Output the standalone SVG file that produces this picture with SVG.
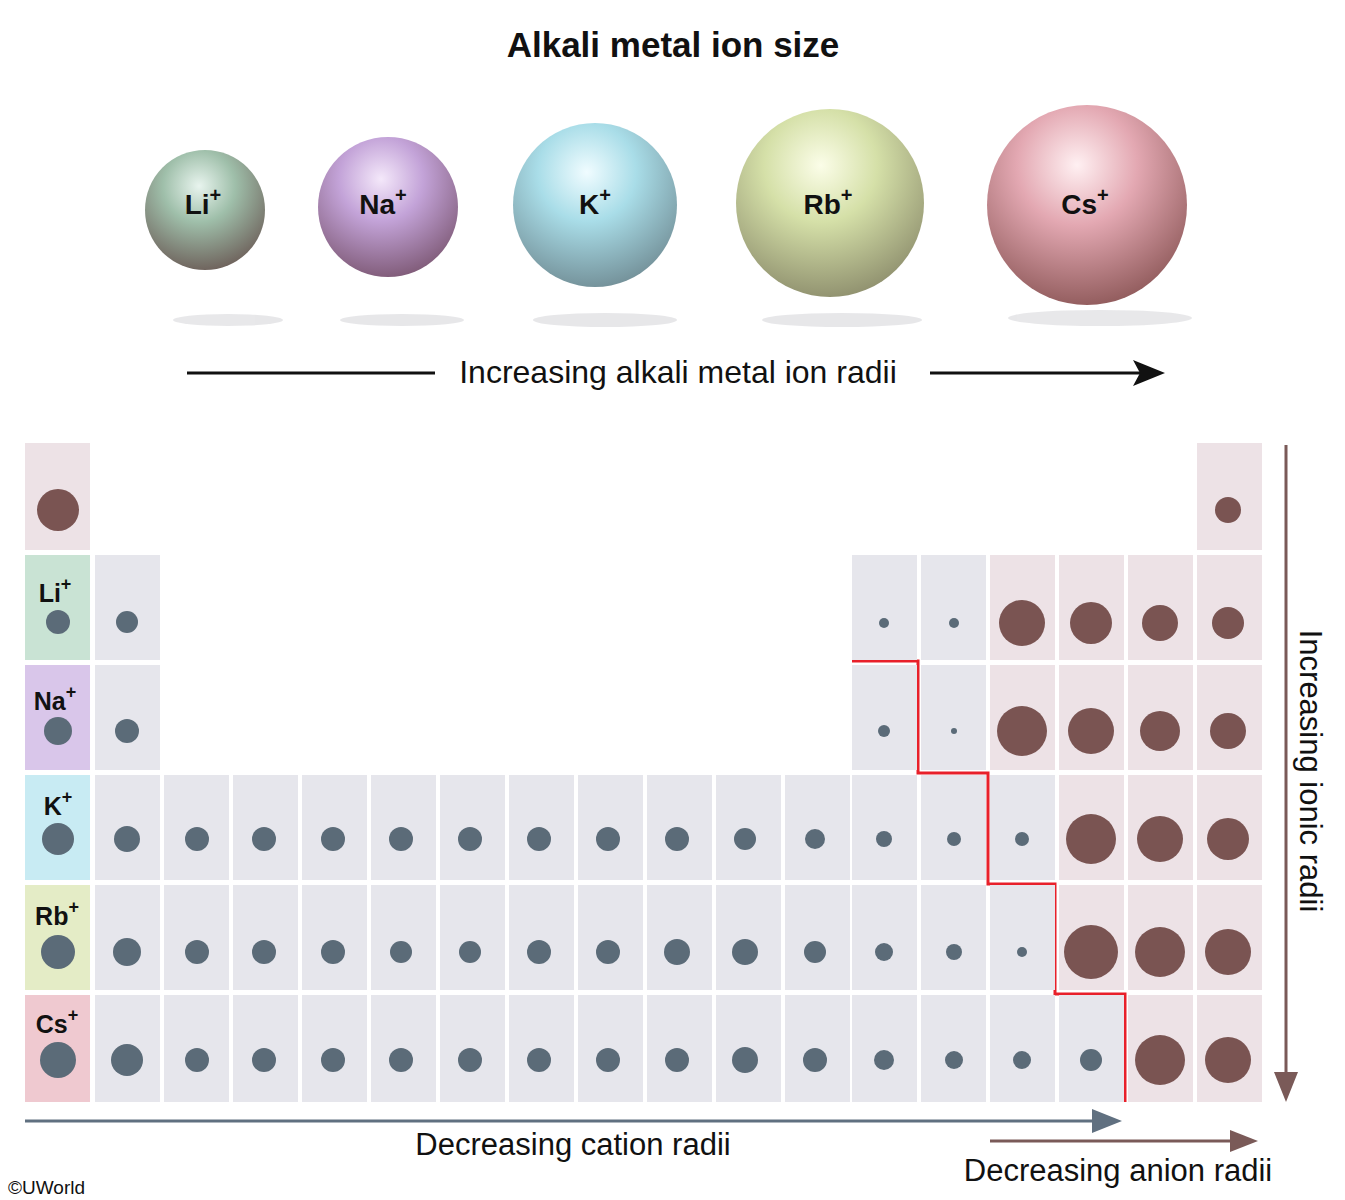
<svg xmlns="http://www.w3.org/2000/svg" width="1345" height="1200" viewBox="0 0 1345 1200">
<defs>
<style>
text{font-family:"Liberation Sans",Arial,sans-serif;fill:#111}
.c{fill:#e6e6ec}.a{fill:#ede2e6}
.cd{fill:#5b6b78}.ad{fill:#7a5452}
.lb{font-size:25px;font-weight:bold;text-anchor:middle}
.sl{font-size:28px;font-weight:bold;text-anchor:middle}
</style>
<radialGradient id="gLi" cx="0.45" cy="0.3" r="0.75"><stop offset="0" stop-color="#e8f4ee"/><stop offset="0.4" stop-color="#9fbfaa"/><stop offset="1" stop-color="#6a5a55"/></radialGradient>
<radialGradient id="gNa" cx="0.45" cy="0.3" r="0.75"><stop offset="0" stop-color="#f4e8fa"/><stop offset="0.4" stop-color="#c3a3d8"/><stop offset="1" stop-color="#7a5570"/></radialGradient>
<radialGradient id="gK" cx="0.45" cy="0.3" r="0.75"><stop offset="0" stop-color="#f0fcff"/><stop offset="0.4" stop-color="#a9dde8"/><stop offset="1" stop-color="#6f8a92"/></radialGradient>
<radialGradient id="gRb" cx="0.45" cy="0.3" r="0.75"><stop offset="0" stop-color="#fbfde8"/><stop offset="0.4" stop-color="#d5e0a8"/><stop offset="1" stop-color="#8a8a6a"/></radialGradient>
<radialGradient id="gCs" cx="0.45" cy="0.3" r="0.75"><stop offset="0" stop-color="#fff0f2"/><stop offset="0.4" stop-color="#e3a8b2"/><stop offset="1" stop-color="#8a5555"/></radialGradient>
</defs>
<rect width="1345" height="1200" fill="#fff"/>
<text x="673" y="57" font-size="35" font-weight="bold" text-anchor="middle">Alkali metal ion size</text>
<g id="spheres">
<g fill="#d8d8dc" opacity="0.6"><ellipse cx="228" cy="320" rx="55" ry="6"/><ellipse cx="402" cy="320" rx="62" ry="6"/><ellipse cx="605" cy="320" rx="72" ry="7"/><ellipse cx="842" cy="320" rx="80" ry="7"/><ellipse cx="1100" cy="318" rx="92" ry="8"/></g>
<g id="li"><circle cx="205" cy="210" r="60" fill="url(#gLi)"/><text class="sl" x="203" y="214">Li<tspan dy="-12" font-size="20">+</tspan></text></g>
<g id="na"><circle cx="388" cy="207" r="70" fill="url(#gNa)"/><text class="sl" x="383" y="214">Na<tspan dy="-12" font-size="20">+</tspan></text></g>
<g id="k"><circle cx="595" cy="205" r="82" fill="url(#gK)"/><text class="sl" x="595" y="214">K<tspan dy="-12" font-size="20">+</tspan></text></g>
<g id="rb"><circle cx="830" cy="203" r="94" fill="url(#gRb)"/><text class="sl" x="828" y="214">Rb<tspan dy="-12" font-size="20">+</tspan></text></g>
<g id="cs"><circle cx="1087" cy="205" r="100" fill="url(#gCs)"/><text class="sl" x="1085" y="214">Cs<tspan dy="-12" font-size="20">+</tspan></text></g>
</g>
<g id="connectors" stroke-width="3" fill="none">
<line x1="187" y1="373" x2="435" y2="373" stroke="#111"/>
<line x1="930" y1="373" x2="1145" y2="373" stroke="#111"/>
<path d="M1133,360L1165,373L1133,386L1140,373z" fill="#111" stroke="none"/>
<line x1="25" y1="1121" x2="1100" y2="1121" stroke="#607080"/>
<path d="M1092,1109L1122,1121L1092,1133z" fill="#607080" stroke="none"/>
<line x1="990" y1="1141" x2="1240" y2="1141" stroke="#7a5a58"/>
<path d="M1230,1130L1258,1141L1230,1152z" fill="#7a5a58" stroke="none"/>
<line x1="1286" y1="445" x2="1286" y2="1080" stroke="#7a5a58"/>
<path d="M1274,1072L1286,1102L1298,1072z" fill="#7a5a58" stroke="none"/>
<path d="M852,661H918V773H988V884H1055V994H1125V1102" stroke="#e8202a"/>
</g>
<text x="678" y="383" font-size="32" text-anchor="middle">Increasing alkali metal ion radii</text>
<text x="573" y="1155" font-size="31" text-anchor="middle">Decreasing cation radii</text>
<text x="1118" y="1181" font-size="31" text-anchor="middle">Decreasing anion radii</text>
<text transform="translate(1300,771) rotate(90)" font-size="31" text-anchor="middle">Increasing ionic radii</text>
<text x="8" y="1194" font-size="19">©UWorld</text>
<g id="table">
<g id="h"><rect x="25" y="443" width="65" height="107" class="a"/><circle cx="58" cy="510" r="21" class="ad"/></g>
<g id="tli"><rect x="25" y="555" width="65" height="105" fill="#c9e3d4"/><text class="lb" x="55" y="602">Li<tspan dy="-12" font-size="18">+</tspan></text><circle cx="58" cy="622" r="12" class="cd"/></g>
<g id="tna"><rect x="25" y="665" width="65" height="105" fill="#d9c6ea"/><text class="lb" x="55" y="710">Na<tspan dy="-12" font-size="18">+</tspan></text><circle cx="58" cy="731" r="14" class="cd"/></g>
<g id="tk"><rect x="25" y="775" width="65" height="105" fill="#c8ebf3"/><text class="lb" x="58" y="815">K<tspan dy="-12" font-size="18">+</tspan></text><circle cx="58" cy="839" r="16" class="cd"/></g>
<g id="trb"><rect x="25" y="885" width="65" height="105" fill="#e4ecc6"/><text class="lb" x="57" y="925">Rb<tspan dy="-12" font-size="18">+</tspan></text><circle cx="58" cy="952" r="17" class="cd"/></g>
<g id="tcs"><rect x="25" y="995" width="65" height="107" fill="#efc9d0"/><text class="lb" x="57" y="1033">Cs<tspan dy="-12" font-size="18">+</tspan></text><circle cx="58" cy="1060" r="18" class="cd"/></g>
<g id="c2"><rect x="95" y="555" width="65" height="105" class="c"/><rect x="95" y="665" width="65" height="105" class="c"/><rect x="95" y="775" width="65" height="105" class="c"/><rect x="95" y="885" width="65" height="105" class="c"/><rect x="95" y="995" width="65" height="107" class="c"/>
<circle cx="127" cy="622" r="11" class="cd"/><circle cx="127" cy="731" r="12" class="cd"/><circle cx="127" cy="839" r="13" class="cd"/><circle cx="127" cy="952" r="14" class="cd"/><circle cx="127" cy="1060" r="16" class="cd"/></g>
<g id="tm" class="c">
<rect x="164" y="775" width="65" height="105"/><rect x="233" y="775" width="65" height="105"/><rect x="302" y="775" width="65" height="105"/><rect x="371" y="775" width="65" height="105"/><rect x="440" y="775" width="65" height="105"/><rect x="509" y="775" width="65" height="105"/><rect x="578" y="775" width="65" height="105"/><rect x="647" y="775" width="65" height="105"/><rect x="716" y="775" width="65" height="105"/><rect x="785" y="775" width="65" height="105"/>
<rect x="164" y="885" width="65" height="105"/><rect x="233" y="885" width="65" height="105"/><rect x="302" y="885" width="65" height="105"/><rect x="371" y="885" width="65" height="105"/><rect x="440" y="885" width="65" height="105"/><rect x="509" y="885" width="65" height="105"/><rect x="578" y="885" width="65" height="105"/><rect x="647" y="885" width="65" height="105"/><rect x="716" y="885" width="65" height="105"/><rect x="785" y="885" width="65" height="105"/>
<rect x="164" y="995" width="65" height="107"/><rect x="233" y="995" width="65" height="107"/><rect x="302" y="995" width="65" height="107"/><rect x="371" y="995" width="65" height="107"/><rect x="440" y="995" width="65" height="107"/><rect x="509" y="995" width="65" height="107"/><rect x="578" y="995" width="65" height="107"/><rect x="647" y="995" width="65" height="107"/><rect x="716" y="995" width="65" height="107"/><rect x="785" y="995" width="65" height="107"/>
</g>
<g id="tmdots" class="cd">
<circle cx="197" cy="839" r="12"/><circle cx="264" cy="839" r="12"/><circle cx="333" cy="839" r="12"/><circle cx="401" cy="839" r="12"/><circle cx="470" cy="839" r="12"/><circle cx="539" cy="839" r="12"/><circle cx="608" cy="839" r="12"/><circle cx="677" cy="839" r="12"/><circle cx="745" cy="839" r="11"/><circle cx="815" cy="839" r="10"/>
<circle cx="197" cy="952" r="12"/><circle cx="264" cy="952" r="12"/><circle cx="333" cy="952" r="12"/><circle cx="401" cy="952" r="11"/><circle cx="470" cy="952" r="11"/><circle cx="539" cy="952" r="12"/><circle cx="608" cy="952" r="12"/><circle cx="677" cy="952" r="13"/><circle cx="745" cy="952" r="13"/><circle cx="815" cy="952" r="11"/>
<circle cx="197" cy="1060" r="12"/><circle cx="264" cy="1060" r="12"/><circle cx="333" cy="1060" r="12"/><circle cx="401" cy="1060" r="12"/><circle cx="470" cy="1060" r="12"/><circle cx="539" cy="1060" r="12"/><circle cx="608" cy="1060" r="12"/><circle cx="677" cy="1060" r="12"/><circle cx="745" cy="1060" r="13"/><circle cx="815" cy="1060" r="12"/>
</g>
<g id="pblock">
<rect x="852" y="555" width="65" height="105" class="c"/><rect x="921" y="555" width="65" height="105" class="c"/><rect x="990" y="555" width="65" height="105" class="a"/><rect x="1059" y="555" width="65" height="105" class="a"/><rect x="1128" y="555" width="65" height="105" class="a"/><rect x="1197" y="555" width="65" height="105" class="a"/>
<rect x="852" y="665" width="65" height="105" class="c"/><rect x="921" y="665" width="65" height="105" class="c"/><rect x="990" y="665" width="65" height="105" class="a"/><rect x="1059" y="665" width="65" height="105" class="a"/><rect x="1128" y="665" width="65" height="105" class="a"/><rect x="1197" y="665" width="65" height="105" class="a"/>
<rect x="852" y="775" width="65" height="105" class="c"/><rect x="921" y="775" width="65" height="105" class="c"/><rect x="990" y="775" width="65" height="105" class="c"/><rect x="1059" y="775" width="65" height="105" class="a"/><rect x="1128" y="775" width="65" height="105" class="a"/><rect x="1197" y="775" width="65" height="105" class="a"/>
<rect x="852" y="885" width="65" height="105" class="c"/><rect x="921" y="885" width="65" height="105" class="c"/><rect x="990" y="885" width="65" height="105" class="c"/><rect x="1059" y="885" width="65" height="105" class="a"/><rect x="1128" y="885" width="65" height="105" class="a"/><rect x="1197" y="885" width="65" height="105" class="a"/>
<rect x="852" y="995" width="65" height="107" class="c"/><rect x="921" y="995" width="65" height="107" class="c"/><rect x="990" y="995" width="65" height="107" class="c"/><rect x="1059" y="995" width="65" height="107" class="c"/><rect x="1128" y="995" width="65" height="107" class="a"/><rect x="1197" y="995" width="65" height="107" class="a"/>
<rect x="1197" y="443" width="65" height="107" class="a"/>
<g class="cd"><circle cx="884" cy="623" r="5"/><circle cx="954" cy="623" r="5"/><circle cx="884" cy="731" r="6"/><circle cx="954" cy="731" r="3"/><circle cx="884" cy="839" r="8"/><circle cx="954" cy="839" r="7"/><circle cx="1022" cy="839" r="7"/><circle cx="884" cy="952" r="9"/><circle cx="954" cy="952" r="8"/><circle cx="1022" cy="952" r="5"/><circle cx="884" cy="1060" r="10"/><circle cx="954" cy="1060" r="9"/><circle cx="1022" cy="1060" r="9"/><circle cx="1091" cy="1060" r="11"/></g>
<g class="ad"><circle cx="1228" cy="510" r="13"/><circle cx="1022" cy="623" r="23"/><circle cx="1091" cy="623" r="21"/><circle cx="1160" cy="623" r="18"/><circle cx="1228" cy="623" r="16"/><circle cx="1022" cy="731" r="25"/><circle cx="1091" cy="731" r="23"/><circle cx="1160" cy="731" r="20"/><circle cx="1228" cy="731" r="18"/><circle cx="1091" cy="839" r="25"/><circle cx="1160" cy="839" r="23"/><circle cx="1228" cy="839" r="21"/><circle cx="1091" cy="952" r="27"/><circle cx="1160" cy="952" r="25"/><circle cx="1228" cy="952" r="23"/><circle cx="1160" cy="1060" r="25"/><circle cx="1228" cy="1060" r="23"/></g>
</g>
</g>
</svg>
